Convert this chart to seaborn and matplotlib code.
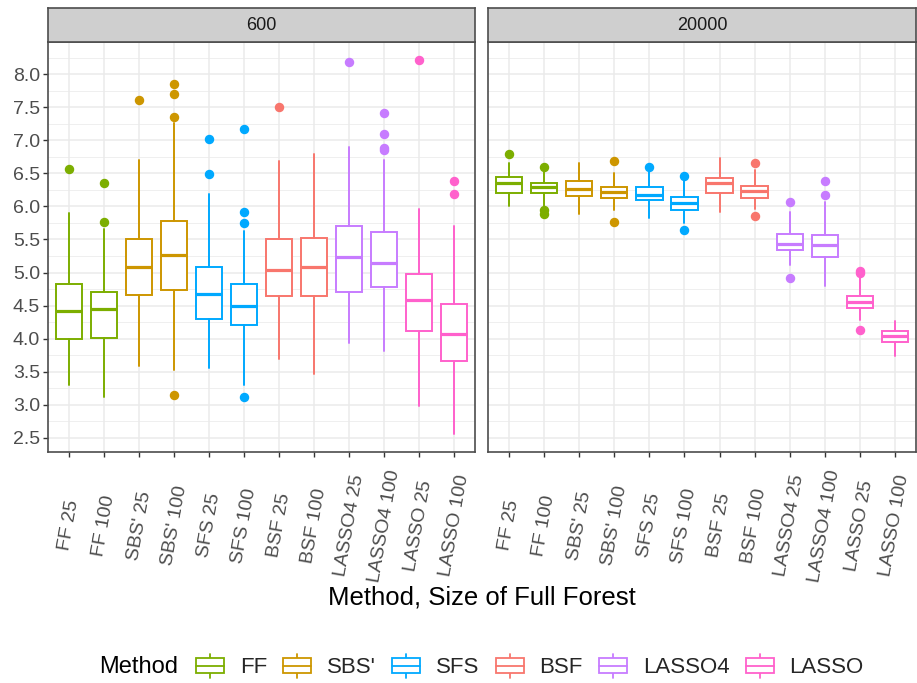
import numpy as np
import matplotlib
matplotlib.use("Agg")
import matplotlib.pyplot as plt
import seaborn as sns
from matplotlib.patches import Patch, Rectangle
from matplotlib.lines import Line2D
from matplotlib.legend_handler import HandlerBase

# categories
methods = ["FF", "SBS'", "SFS", "BSF", "LASSO4", "LASSO"]
labels = ["FF 25", "FF 100", "SBS' 25", "SBS' 100", "SFS 25", "SFS 100",
          "BSF 25", "BSF 100", "LASSO4 25", "LASSO4 100", "LASSO 25", "LASSO 100"]
panels = ["600", "20000"]

# box summaries, size 600
lo_600 = [3.29, 3.11, 3.58, 3.52, 3.55, 3.29, 3.69, 3.47, 3.94, 3.81, 2.98, 2.55]
q1_600 = [4.00, 4.01, 4.66, 4.74, 4.29, 4.21, 4.65, 4.65, 4.70, 4.78, 4.11, 3.66]
med_600 = [4.42, 4.45, 5.09, 5.26, 4.67, 4.50, 5.04, 5.08, 5.24, 5.14, 4.58, 4.07]
q3_600 = [4.83, 4.71, 5.50, 5.78, 5.08, 4.83, 5.51, 5.52, 5.70, 5.61, 4.97, 4.53]
hi_600 = [5.90, 5.66, 6.70, 7.26, 6.19, 5.63, 6.69, 6.79, 6.90, 6.70, 5.96, 5.71]
out_600 = [[6.56], [6.36, 5.76], [7.61], [7.86, 7.70, 7.35, 3.14], [7.02, 6.49],
           [7.17, 5.92, 5.75, 3.11], [7.50], [], [8.18], [7.42, 7.10, 6.88, 6.86],
           [8.21], [6.39, 6.19]]

# size 20000
lo_20000 = [6.00, 6.00, 5.89, 5.95, 5.83, 5.75, 5.92, 5.96, 5.11, 4.80, 4.28, 3.73]
q1_20000 = [6.21, 6.21, 6.16, 6.13, 6.09, 5.95, 6.21, 6.13, 5.34, 5.23, 4.46, 3.95]
med_20000 = [6.36, 6.29, 6.27, 6.22, 6.18, 6.05, 6.36, 6.23, 5.43, 5.41, 4.56, 4.04]
q3_20000 = [6.45, 6.36, 6.38, 6.29, 6.29, 6.14, 6.43, 6.31, 5.59, 5.57, 4.65, 4.12]
hi_20000 = [6.65, 6.53, 6.65, 6.51, 6.53, 6.38, 6.73, 6.55, 5.91, 6.07, 4.91, 4.27]
out_20000 = [[6.79], [6.60, 5.95, 5.89], [], [6.69, 5.77], [6.60], [6.46, 5.65], [],
             [6.66, 5.85], [6.06, 4.91], [6.38, 6.18], [5.03, 5.00, 4.13], []]

stats = {
    "600": (lo_600, q1_600, med_600, q3_600, hi_600, out_600),
    "20000": (lo_20000, q1_20000, med_20000, q3_20000, hi_20000, out_20000),
}

sns.set_theme(style="white")
plt.rcParams['font.family'] = ['Liberation Sans', 'DejaVu Sans']
pal = sns.color_palette(["#7CAE00", "#CD9600", "#00A9FF", "#F8766D", "#C77CFF", "#FF61CC"])
col = {m: pal[i] for i, m in enumerate(methods)}

W, H = 917, 683
fig = plt.figure(figsize=(W / 100, H / 100), dpi=100)


def box(x0, x1, y0, y1):
    return [x0 / W, 1 - y1 / H, (x1 - x0) / W, (y1 - y0) / H]


lefts = [(48.3, 475.0), (488.0, 916.0)]
for k, name in enumerate(panels):
    x0, x1 = lefts[k]
    ax = fig.add_axes(box(x0, x1, 42.3, 452.3))
    ax.set_facecolor("white")
    lo, q1, med, q3, hi, out = stats[name]
    for i in range(len(labels)):
        c = col[methods[i // 2]]
        st = [dict(whislo=lo[i], q1=q1[i], med=med[i], q3=q3[i], whishi=hi[i], fliers=out[i])]
        ax.bxp(st, positions=[i], widths=0.75, patch_artist=True, showcaps=False,
               boxprops=dict(facecolor="white", edgecolor=c, lw=1.4),
               whiskerprops=dict(color=c, lw=1.4),
               medianprops=dict(color=c, lw=2.3),
               flierprops=dict(marker="o", markerfacecolor=c, markeredgecolor=c,
                               markersize=5.8, linestyle="none"))
    ax.set_xlim(-0.6, 11.6)
    ax.set_ylim(2.279, 8.484)
    ax.set_yticks(np.arange(2.5, 8.01, 0.5))
    ax.set_yticks(np.arange(2.75, 8.3, 0.5), minor=True)
    ax.set_yticklabels([f"{v:.1f}" for v in np.arange(2.5, 8.01, 0.5)])
    ax.set_xticks(range(len(labels)))
    ax.set_xticklabels(labels, rotation=80, ha="center", va="center", rotation_mode="anchor")
    ax.grid(which="major", color="#EBEBEB", lw=1.1)
    ax.grid(which="minor", axis="y", color="#EBEBEB", lw=0.55)
    ax.set_axisbelow(True)
    ax.tick_params(which="minor", length=0)
    ax.tick_params(axis="both", which="major", color="#333333", labelcolor="#4D4D4D",
                   width=1.0, length=3.8, labelsize=14)
    ax.tick_params(axis="x", pad=49, bottom=True)
    ax.tick_params(axis="y", pad=2.2, left=True)
    if k == 1:
        ax.tick_params(axis="y", left=False, labelleft=False)
    for s in ax.spines.values():
        s.set_color("#4D4D4D")
        s.set_linewidth(1.2)

    sax = fig.add_axes(box(x0, x1, 8.3, 42.3))
    sax.set_facecolor("#CFCFCF")
    sax.set_xticks([])
    sax.set_yticks([])
    for s in sax.spines.values():
        s.set_color("#4D4D4D")
        s.set_linewidth(1.2)
    sax.text(0.5, 0.5, name, ha="center", va="center", fontsize=13, color="#1A1A1A",
             transform=sax.transAxes)

fig.text(482 / W, 1 - 597 / H, "Method, Size of Full Forest", ha="center", va="center",
         fontsize=18.5, color="black")


class BoxKey(HandlerBase):
    def create_artists(self, legend, orig_handle, xdescent, ydescent, width, height,
                       fontsize, trans):
        c = orig_handle.get_edgecolor()
        x0, y0 = -xdescent, -ydescent
        xm = x0 + width / 2
        b0, b1 = y0 + 0.18 * height, y0 + 0.82 * height
        r = Rectangle((x0, b0), width, b1 - b0, facecolor="white", edgecolor=c, lw=1.3,
                      transform=trans)
        m = Line2D([x0, x0 + width], [(b0 + b1) / 2] * 2, color=c, lw=1.3, transform=trans)
        w1 = Line2D([xm, xm], [y0, b0], color=c, lw=1.3, transform=trans)
        w2 = Line2D([xm, xm], [b1, y0 + height], color=c, lw=1.3, transform=trans)
        return [w1, w2, r, m]


fig.text(99 / W, 1 - 667 / H, "Method", ha="left", va="center", fontsize=17, color="black")
handles = [Patch(facecolor="white", edgecolor=col[m], label=m) for m in methods]
fig.legend(handles=handles, handler_map={Patch: BoxKey()}, loc="center left",
           bbox_to_anchor=(196 / W, 1 - 666 / H), ncol=6, frameon=False, fontsize=16,
           handlelength=1.26, handleheight=1.26, handletextpad=0.72, columnspacing=0.72,
           borderpad=0, borderaxespad=0)

fig.savefig("out.png", dpi=100)
